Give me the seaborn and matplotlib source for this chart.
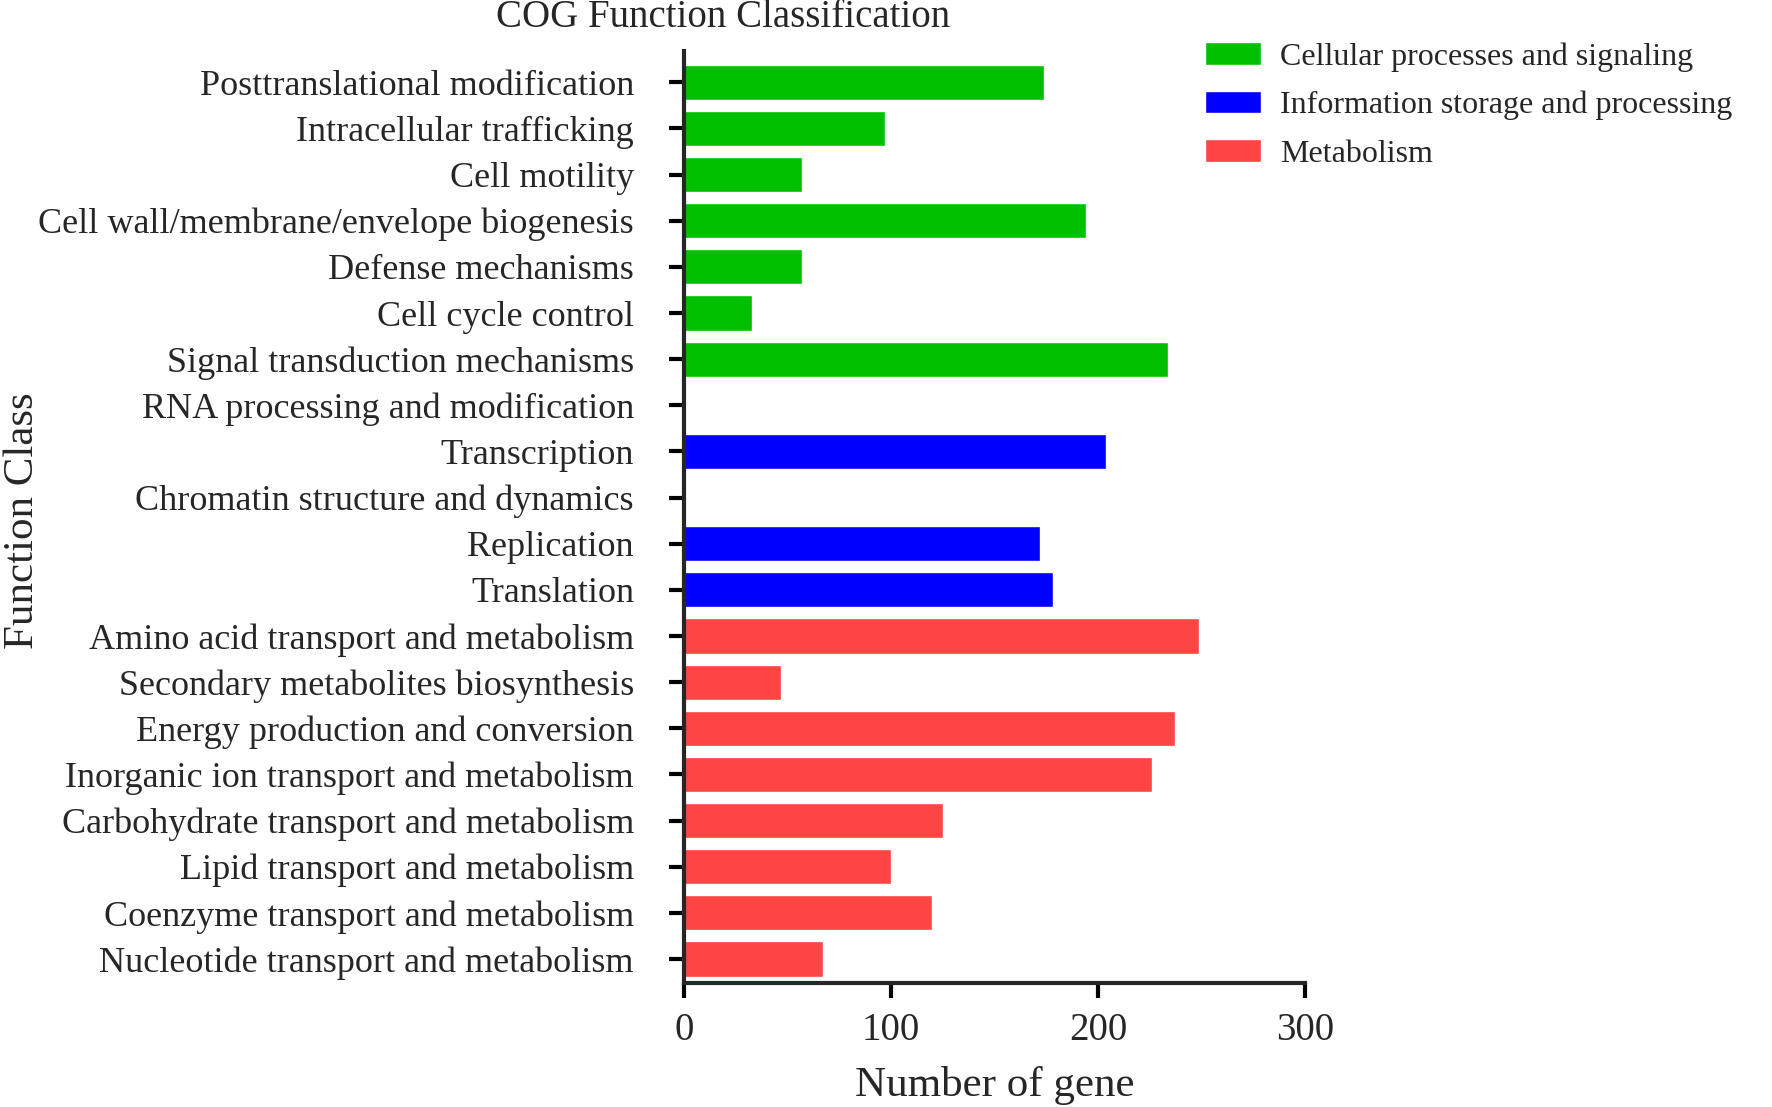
import matplotlib
matplotlib.use("Agg")
import matplotlib.pyplot as plt
import pandas as pd
import seaborn as sns

# COG categories, top to bottom
categories = [
    "Posttranslational modification",
    "Intracellular trafficking",
    "Cell motility",
    "Cell wall/membrane/envelope biogenesis",
    "Defense mechanisms",
    "Cell cycle control",
    "Signal transduction mechanisms",
    "RNA processing and modification",
    "Transcription",
    "Chromatin structure and dynamics",
    "Replication",
    "Translation",
    "Amino acid transport and metabolism",
    "Secondary metabolites biosynthesis",
    "Energy production and conversion",
    "Inorganic ion transport and metabolism",
    "Carbohydrate transport and metabolism",
    "Lipid transport and metabolism",
    "Coenzyme transport and metabolism",
    "Nucleotide transport and metabolism",
]
gene_counts = [174, 97, 57, 194, 57, 33, 234, 0, 204, 0,
               172, 178, 249, 47, 237, 226, 125, 100, 120, 67]

cellular = "Cellular processes and signaling"
information = "Information storage and processing"
metabolism = "Metabolism"
groups = [cellular] * 7 + [information] * 5 + [metabolism] * 8
group_order = [cellular, information, metabolism]
palette = {cellular: "#00C000", information: "#0000FF", metabolism: "#FF4444"}

df = pd.DataFrame({"category": categories, "count": gene_counts, "group": groups})

sns.set_style("ticks")
plt.rcParams['font.family'] = ['Liberation Serif', 'DejaVu Serif']

fig = plt.figure(figsize=(17.72, 11.07), dpi=100)
ax = fig.add_axes([0.386, 0.112, 0.3505, 0.842])

sns.barplot(data=df, x="count", y="category", hue="group", hue_order=group_order,
            palette=palette, dodge=False, width=0.76, orient="h", ax=ax,
            order=categories, saturation=1, legend=True)

ax.set_xlim(0, 300)
ax.set_xticks([0, 100, 200, 300])
ax.set_ylim(19.52, -0.68)

for side in ["top", "right"]:
    ax.spines[side].set_visible(False)
for side in ["left", "bottom"]:
    ax.spines[side].set_linewidth(3)
ax.tick_params(axis="both", width=3, length=11, color="black")
ax.tick_params(axis="y", labelsize=26, pad=25)
ax.tick_params(axis="x", labelsize=28, pad=10)

ax.set_xlabel("Number of gene", fontsize=31, labelpad=12)
ax.set_ylabel("")
fig.text(0.002, 0.53, "Function Class", rotation=90, fontsize=31,
         ha="left", va="center")
fig.text(0.408, 0.984, "COG Function Classification", fontsize=28,
         ha="center", va="center")

handles, labels = ax.get_legend_handles_labels()
ax.get_legend().remove()
fig.legend(handles, labels, loc="upper left", bbox_to_anchor=(0.664, 0.988),
           frameon=False, fontsize=23, handlelength=1.75, handleheight=0.7,
           labelspacing=0.6, handletextpad=0.6)

fig.savefig("out.png", dpi=100)
